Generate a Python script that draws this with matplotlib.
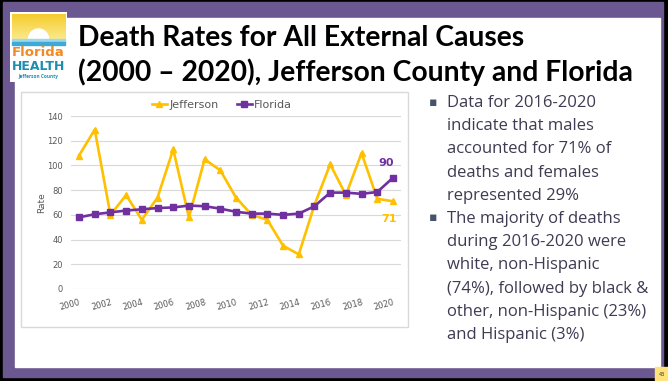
import numpy as np
import matplotlib.pyplot as plt
from matplotlib.colors import LinearSegmentedColormap
from matplotlib.patches import Rectangle, Wedge

W, H = 668, 381

years = list(range(2000, 2021))
year_labels = [str(y) if y % 2 == 0 else "" for y in years]

jefferson = [108, 129, 60, 76, 56, 74, 113, 58, 105, 96, 74,
             60, 56, 35, 28, 68, 101, 76, 110, 73, 71]
florida = [58, 60.5, 62, 63.5, 64.5, 65.5, 66, 67.5, 67, 65, 62.5,
           61, 61, 60, 61, 67, 78, 78, 77, 78.5, 90]

title_lines = ["Death Rates for All External Causes",
               "(2000 \u2013 2020), Jefferson County and Florida"]
bullets = [
    ["Data for 2016-2020", "indicate that males", "accounted for 71% of",
     "deaths and females", "represented 29%"],
    ["The majority of deaths", "during 2016-2020 were", "white, non-Hispanic",
     "(74%), followed by black &", "other, non-Hispanic (23%)", "and Hispanic (3%)"],
]

GOLD = "#FFC000"
PURPLE = "#7030A0"
FRAME = "#6C5891"
TEXT = "#3E3B52"
GRAY = "#595959"


def box(x0, y0, x1, y1):
    # pixel box (top-left origin) -> figure fraction rect
    return [x0 / W, 1 - y1 / H, (x1 - x0) / W, (y1 - y0) / H]


def fx(x):
    return x / W


def fy(y):
    return 1 - y / H


fig = plt.figure(figsize=(W / 100, H / 100), dpi=100)
fig.patch.set_facecolor("black")

# slide frame
fig.patches.append(Rectangle((fx(3), fy(377)), (663 - 3) / W, (377 - 2) / H,
                             transform=fig.transFigure, color=FRAME, zorder=-3))
fig.patches.append(Rectangle((fx(15), fy(367)), (660 - 15) / W, (367 - 18) / H,
                             transform=fig.transFigure, color="white", zorder=-2))
# page number tag
fig.patches.append(Rectangle((fx(655), fy(381)), 13 / W, 14 / H,
                             transform=fig.transFigure, color="#FFE27A", zorder=-1))
fig.text(fx(661.5), fy(374), "43", fontsize=3.5, ha="center", va="center", color="#333333")

# logo
lax = fig.add_axes(box(10, 12, 67, 82))
lax.set_zorder(2)
lax.set_xlim(0, 57)
lax.set_ylim(70, 0)
lax.axis("off")
lax.add_patch(Rectangle((0, 0), 57, 70, color="white"))
grad = np.linspace(0, 1, 50).reshape(-1, 1)
lax.imshow(grad, extent=(2, 55, 27, 2),
           cmap=LinearSegmentedColormap.from_list("sun", ["#F5CC2E", "#FBE98A"]),
           aspect="auto", zorder=1)
lax.add_patch(Wedge((28.5, 27), 10, 180, 360, color="white", zorder=2))
lax.add_patch(Rectangle((2, 27), 53, 3, color="#9ED6EA", zorder=2))
lax.add_patch(Rectangle((2, 30), 53, 3, color="#3FA9D6", zorder=2))
lax.text(28.5, 41, "Florida", color="#F08A24", fontsize=9.5, ha="center", va="center",
         family="Liberation Sans Narrow", fontweight="bold")
lax.text(28.5, 54, "HEALTH", color="#1C8FB0", fontsize=9, ha="center", va="center",
         family="Liberation Sans Narrow", fontweight="bold")
lax.text(28.5, 64.5, "Jefferson County", color="#1C8FB0", fontsize=3.4, ha="center",
         va="center", family="Open Sans", fontweight="bold")

# title
fig.text(fx(78), fy(38), title_lines[0], fontsize=20.3, family="Lato", fontweight="bold",
         color="black", va="center")
fig.text(fx(78), fy(72), title_lines[1], fontsize=20.3, family="Lato", fontweight="bold",
         color="black", va="center")

# chart border
fig.patches.append(Rectangle((fx(21), fy(327)), (408 - 21) / W, (327 - 92) / H,
                             transform=fig.transFigure, fill=False, edgecolor="#D9D9D9",
                             lw=1, zorder=-1))

ax = fig.add_axes(box(71.2, 116, 400.8, 289))
ax.set_zorder(2)
ax.patch.set_alpha(0)
x = np.arange(len(years))
ax.plot(x, jefferson, color=GOLD, lw=1.9, marker="^", ms=5, label="Jefferson",
        clip_on=False, zorder=3)
ax.plot(x, florida, color=PURPLE, lw=1.9, marker="s", ms=4.5, label="Florida",
        clip_on=False, zorder=4)
ax.set_xlim(-0.5, len(years) - 0.5)
ax.set_ylim(0, 140)
ax.set_yticks(range(0, 141, 20))
ax.set_xticks(x)
ax.set_xticklabels(year_labels, rotation=15, ha="right", rotation_mode="anchor")
ax.tick_params(axis="both", length=0, labelsize=6, labelcolor=GRAY)
ax.tick_params(axis="y", pad=6)
ax.tick_params(axis="x", pad=6)
ax.grid(axis="y", color="#D9D9D9", lw=0.8)
ax.set_axisbelow(True)
for s in ax.spines.values():
    s.set_visible(False)
ax.set_ylabel("Rate", fontsize=6.5, color=GRAY, labelpad=1)

ax.annotate(f"{florida[-1]:.0f}", (x[-1], florida[-1]), xytext=(-5, 7),
            textcoords="offset points", color=PURPLE, fontsize=8, fontweight="bold",
            ha="center", va="bottom")
ax.annotate(f"{jefferson[-1]:.0f}", (x[-1], jefferson[-1]), xytext=(-3, -9),
            textcoords="offset points", color=GOLD, fontsize=8, fontweight="bold",
            ha="center", va="top")

ax.legend(loc="center", bbox_to_anchor=(0.4575, 1.064), ncol=2, frameon=False,
          fontsize=8, labelcolor=GRAY, handlelength=1.4, handletextpad=0.2,
          columnspacing=1.6, markerscale=0.9)

# bullet text
y = 103
for group in bullets:
    fig.text(fx(429), fy(y - 1), "\u25aa", fontsize=9, color="#44546A", ha="left",
             va="center")
    for line in group:
        fig.text(fx(447), fy(y), line, fontsize=12, family="Open Sans", color=TEXT,
                 va="center")
        y += 23.2

fig.savefig("out.png", dpi=100, facecolor=fig.get_facecolor())
